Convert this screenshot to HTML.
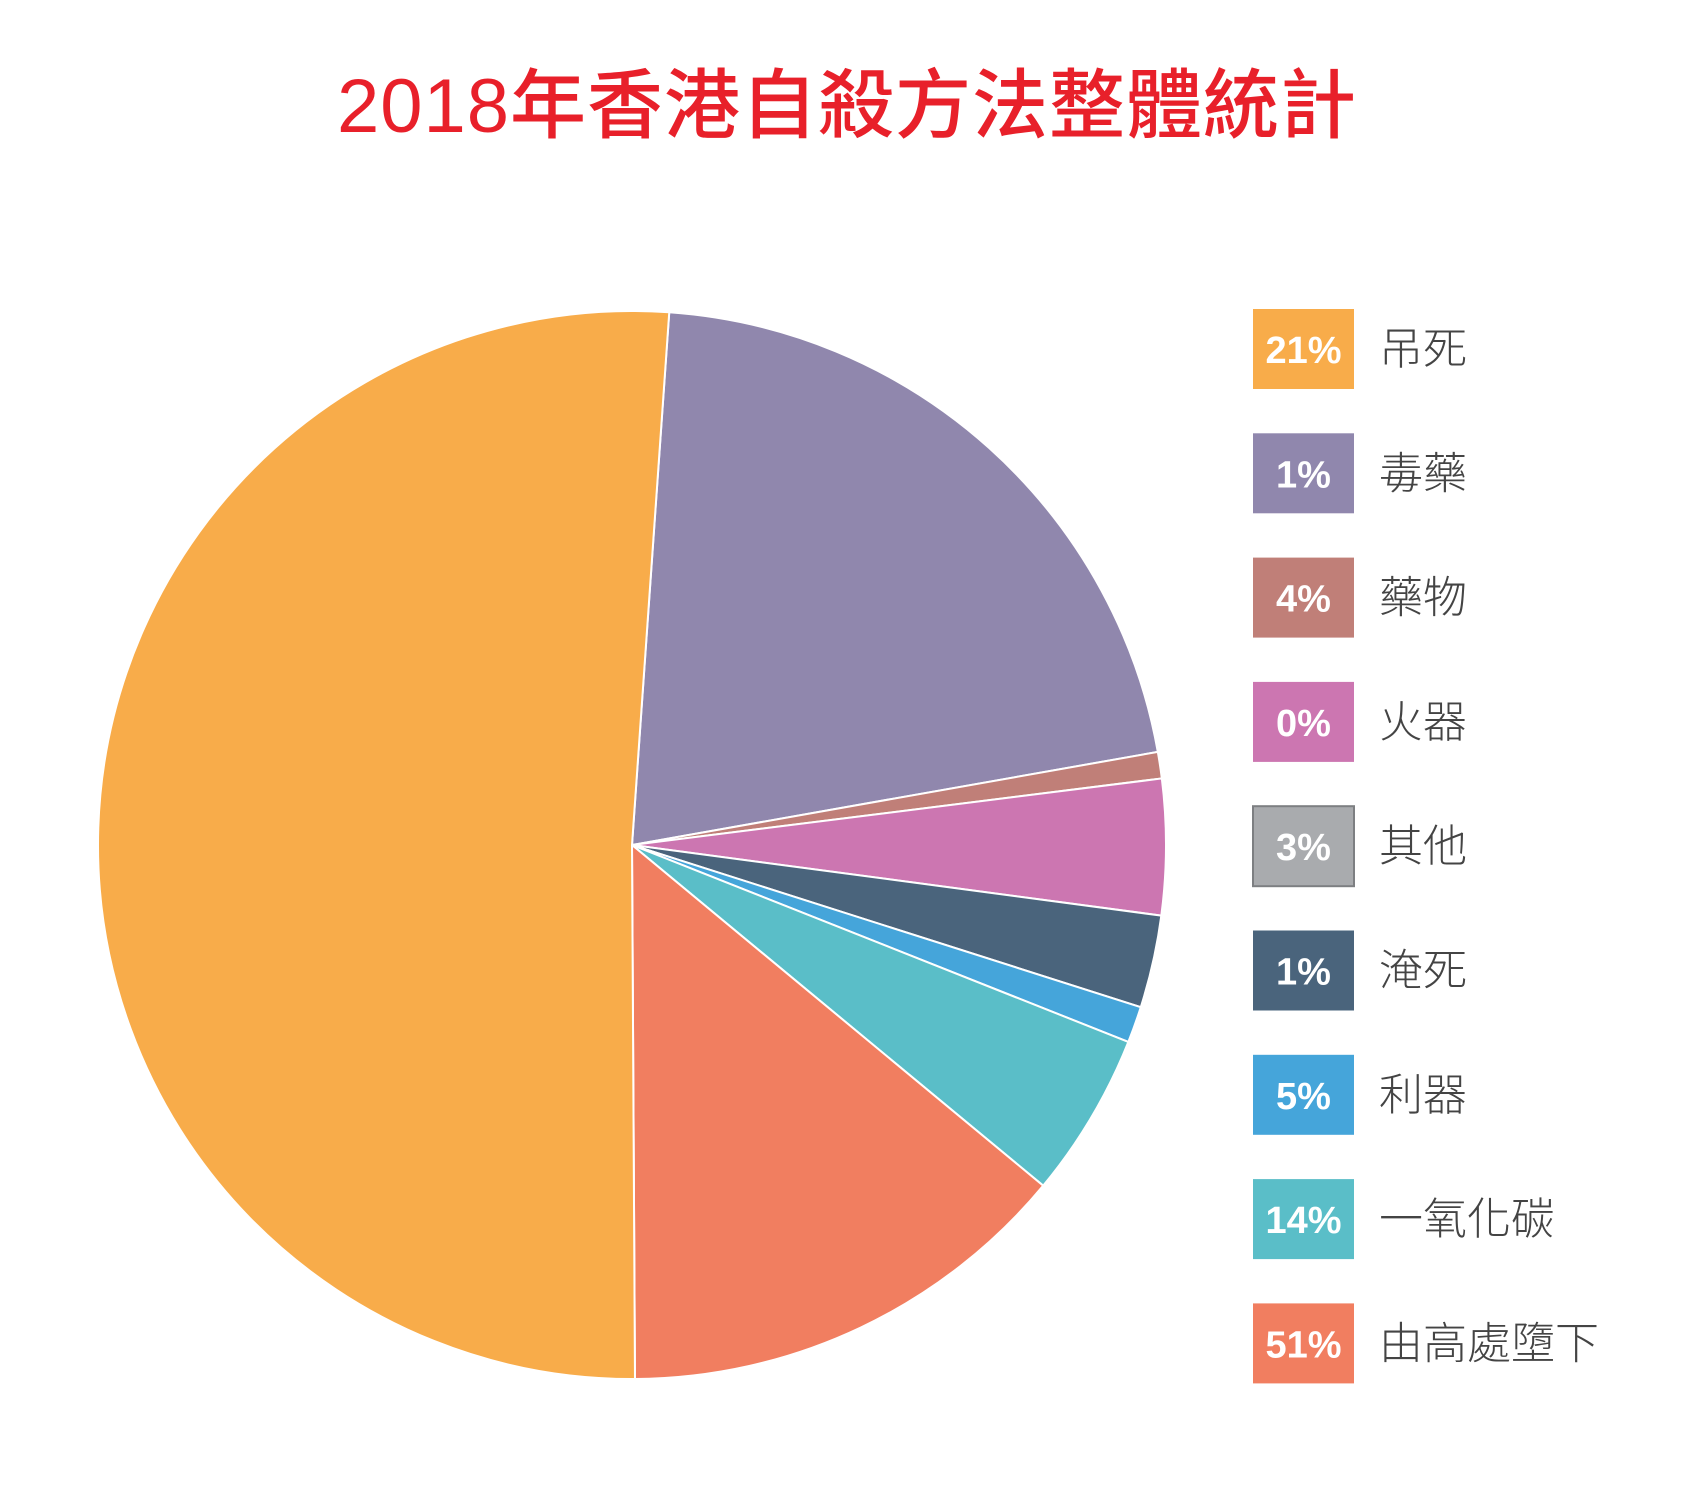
<!DOCTYPE html>
<html><head><meta charset="utf-8">
<style>
html,body{margin:0;padding:0;background:#fff;}
body{width:1694px;height:1500px;overflow:hidden;position:relative;font-family:"Liberation Sans","Noto Sans CJK TC",sans-serif;}
#title{position:absolute;left:0;width:1694px;top:44px;text-align:center;font-size:76px;color:#e8202a;font-weight:500;font-family:"Liberation Sans","Noto Sans CJK TC",sans-serif;letter-spacing:1px;}
</style></head>
<body>
<div id="title">2018年香港自殺方法整體統計</div>
<svg id="chart" width="1694" height="1500" style="position:absolute;left:0;top:0"></svg>
<script>
// pie slices clockwise from start angle
const sliceNames = ["毒藥","藥物","火器","淹死","利器","一氧化碳","由高處墮下","吊死"];
const sliceValues = [21.1, 0.8, 4.1, 2.8, 1.1, 5.0, 13.9, 51.2];
const sliceColors = ["#9087ad","#c07f78","#cc76b1","#4a647c","#45a5da","#5abec8","#f17e60","#f8ac4a"];
// legend as printed
const legendLabels = ["吊死","毒藥","藥物","火器","其他","淹死","利器","一氧化碳","由高處墮下"];
const legendPercents = ["21%","1%","4%","0%","3%","1%","5%","14%","51%"];
const legendColors = ["#f8ac4a","#9087ad","#c07f78","#cc76b1","#a9abae","#4a647c","#45a5da","#5abec8","#f17e60"];

const svg = document.getElementById('chart');
const NS = 'http://www.w3.org/2000/svg';
const cx = 632, cy = 845, r = 534, startDeg = 4;
const total = sliceValues.reduce((a,b)=>a+b,0);
function pt(deg){const a=deg*Math.PI/180;return [cx+r*Math.sin(a), cy-r*Math.cos(a)];}
let acc = startDeg;
sliceValues.forEach((v,i)=>{
  const sweep = v/total*360;
  const a0=acc, a1=acc+sweep; acc=a1;
  const p0=pt(a0), p1=pt(a1);
  const large = sweep>180?1:0;
  const p=document.createElementNS(NS,'path');
  p.setAttribute('d',`M${cx},${cy} L${p0[0]},${p0[1]} A${r},${r} 0 ${large} 1 ${p1[0]},${p1[1]} Z`);
  p.setAttribute('fill',sliceColors[i]);
  p.setAttribute('stroke','#fff');
  p.setAttribute('stroke-width','2');
  
  
  svg.appendChild(p);
});
const lx=1253, ly0=309, lstep=124.3, bw=101, bh=80;
legendLabels.forEach((lab,i)=>{
  const y=ly0+i*lstep;
  const g=document.createElementNS(NS,'g');
  
  
  const rect=document.createElementNS(NS,'rect');
  rect.setAttribute('x',lx);rect.setAttribute('y',y);rect.setAttribute('width',bw);rect.setAttribute('height',bh);
  rect.setAttribute('fill',legendColors[i]);
  if(legendColors[i]==="#a9abae"){rect.setAttribute('stroke','#7d7f82');rect.setAttribute('stroke-width','2');}
  
  
  g.appendChild(rect);
  const t=document.createElementNS(NS,'text');
  t.setAttribute('x',lx+bw/2);t.setAttribute('y',y+bh/2+14);
  t.setAttribute('text-anchor','middle');t.setAttribute('fill','#fff');
  t.setAttribute('font-size','38');t.setAttribute('font-weight','bold');
  t.setAttribute('font-family','"Liberation Sans",sans-serif');
  t.textContent=legendPercents[i];
  
  
  g.appendChild(t);
  const l=document.createElementNS(NS,'text');
  l.setAttribute('x',lx+126);l.setAttribute('y',y+bh/2+15);
  l.setAttribute('fill','#444');l.setAttribute('font-size','44');
  l.setAttribute('font-family','"Liberation Sans","Noto Sans CJK TC",sans-serif');
  l.setAttribute('font-weight','300');
  l.textContent=lab;
  
  
  g.appendChild(l);
  svg.appendChild(g);
});
</script>
</body></html>
